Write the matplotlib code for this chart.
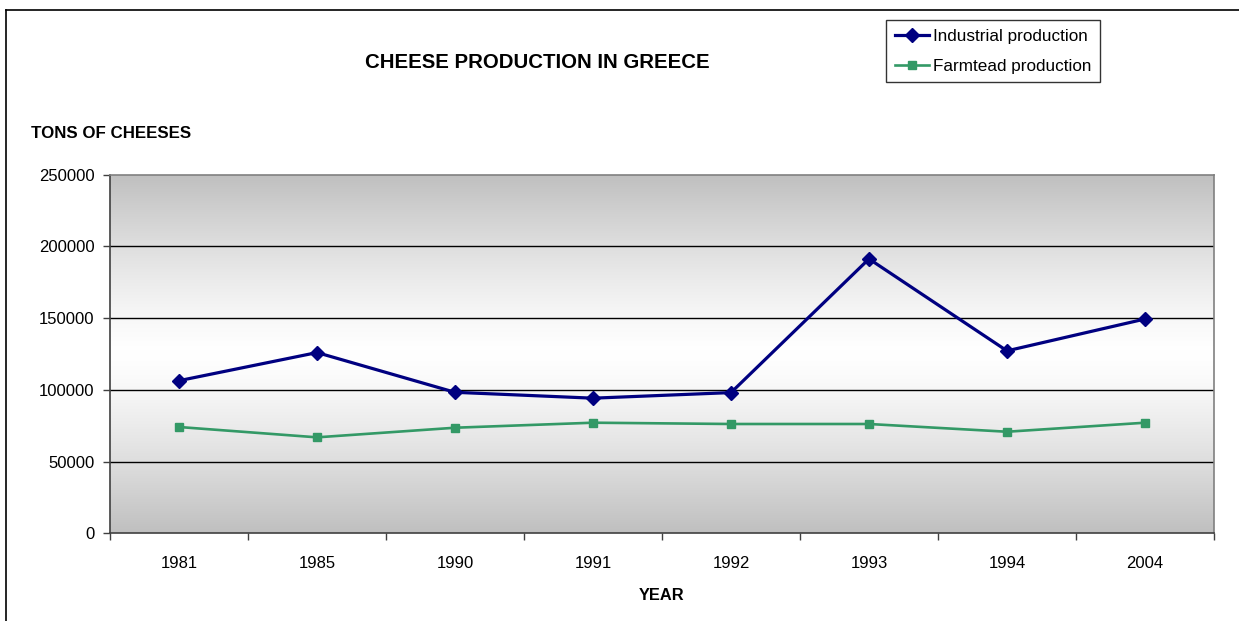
import matplotlib
matplotlib.use("Agg")
import matplotlib.pyplot as plt
import numpy as np
from matplotlib.lines import Line2D

years = ["1981", "1985", "1990", "1991", "1992", "1993", "1994", "2004"]
industrial = [106400, 126000, 98300, 94200, 98100, 191300, 127200, 149400]
farmtead = [74100, 66900, 73600, 77100, 76200, 76200, 70800, 77100]
y_ticks = [0, 50000, 100000, 150000, 200000, 250000]

plt.rcParams['font.family'] = ['Liberation Sans', 'DejaVu Sans']

W, H = 1239, 621
fig = plt.figure(figsize=(W / 100, H / 100), dpi=100)
fig.patch.set_facecolor('white')

# outer chart border (left and top visible)
fig.add_artist(Line2D([6 / W, 6 / W], [0, 1 - 10 / H], transform=fig.transFigure, color='black', lw=1.2))
fig.add_artist(Line2D([6 / W, 1], [1 - 10 / H, 1 - 10 / H], transform=fig.transFigure, color='black', lw=1.2))

left, right = 110 / W, 1214 / W
bottom, top = 1 - 533.3 / H, 1 - 174.7 / H
ax = fig.add_axes([left, bottom, right - left, top - bottom])

x = np.arange(len(years))
ax.set_xlim(-0.5, len(years) - 0.5)
ax.set_ylim(0, 250000)

# vertical gradient background: grey at top/bottom, white in the middle
g = np.linspace(0, 1, 256)
shade = 1 - 0.25 * (np.abs(g - 0.5) * 2) ** 1.3
img = np.repeat(shade[:, None, None], 3, axis=2)
ax.imshow(img, extent=[-0.5, len(years) - 0.5, 0, 250000], aspect='auto', origin='lower', zorder=0)

for yt in y_ticks[1:-1]:
    ax.axhline(yt, color='black', lw=1.0, zorder=1)

ax.plot(x, industrial, color='#000080', lw=2.3, marker='D', markersize=7.4,
        markerfacecolor='#000080', markeredgecolor='#000080', label='Industrial production', zorder=3)
ax.plot(x, farmtead, color='#339966', lw=1.9, marker='s', markersize=5.8,
        markerfacecolor='#339966', markeredgecolor='#339966', label='Farmtead production', zorder=3)

ax.set_yticks(y_ticks)
ax.set_yticklabels([str(v) for v in y_ticks], fontsize=12)
ax.set_xticks(x)
ax.set_xticklabels(years, fontsize=12)
ax.tick_params(axis='x', which='major', length=0, pad=16)
ax.set_xticks(np.arange(-0.5, len(years), 1.0), minor=True)
ax.tick_params(axis='x', which='minor', length=5, width=1, color='#404040', direction='out')
ax.tick_params(axis='y', length=5, width=1, color='#404040', direction='out', pad=6)

for s in ['top', 'right']:
    ax.spines[s].set_color('#808080')
    ax.spines[s].set_linewidth(1.2)
for s in ['left', 'bottom']:
    ax.spines[s].set_color('#404040')
    ax.spines[s].set_linewidth(1.2)

fig.text(537 / W, 1 - 62 / H, 'CHEESE PRODUCTION IN GREECE', ha='center', va='center',
         fontsize=14.7, fontweight='bold')
fig.text(31 / W, 1 - 134 / H, 'TONS OF CHEESES', ha='left', va='center',
         fontsize=12.2, fontweight='bold')
fig.text(661.5 / W, 1 - 596 / H, 'YEAR', ha='center', va='center',
         fontsize=11.8, fontweight='bold')

leg = fig.legend(loc='upper left', bbox_to_anchor=(886 / W, 1 - 20 / H), fontsize=12.3,
                 frameon=True, fancybox=False, handlelength=2.0, handletextpad=0.25,
                 borderpad=0.5, labelspacing=0.9, borderaxespad=0)
leg.get_frame().set_edgecolor('black')
leg.get_frame().set_linewidth(1.0)

fig.savefig('out.png', dpi=100, facecolor='white')
